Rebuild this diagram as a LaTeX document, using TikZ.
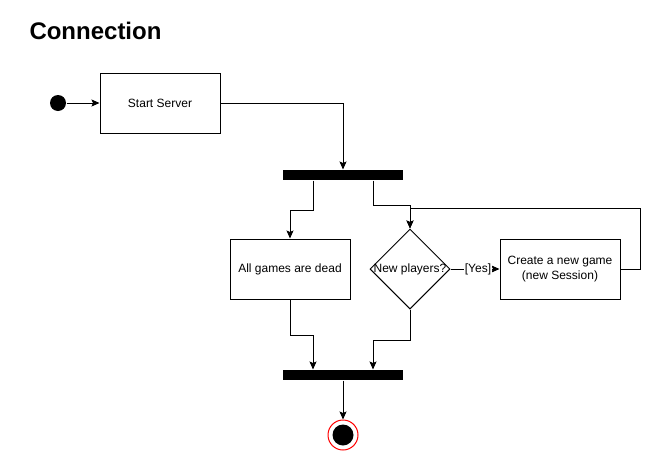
\documentclass[tikz,border=0pt]{standalone}
\usepackage{fontspec}
\setmainfont{Liberation Sans}
\usetikzlibrary{arrows.meta,shapes.geometric}

\begin{document}
\begin{tikzpicture}[x=1pt,y=-1pt,line width=1pt,
    >={Stealth[length=8pt,width=7pt,inset=1.5pt]},
    every node/.style={font=\fontsize{12}{15}\selectfont},
    action/.style={draw,rectangle,minimum width=120,minimum height=60,inner sep=0,align=center},
    bar/.style={fill=black,rectangle,minimum width=120,minimum height=10,inner sep=0},
    choice/.style={draw,diamond,minimum width=80,minimum height=80,inner sep=0}]
  \useasboundingbox (0,0) rectangle (659,461);

  % title
  \node (title) [anchor=base west,inner sep=0,font=\fontsize{24}{28}\selectfont\bfseries] at (29,39) {Connection};

  % start
  \node (init) [circle,fill=black,minimum size=16,inner sep=0] at (58,103) {};
  \node (start) [action] at (160,103) {Start Server};
  \draw[->] (init) -- (start);

  % first fork
  \node (fork1) [bar] at (343,175) {};
  \draw[->] (start.east) -| (fork1.north);

  % branches
  \node (games) [action] at (290,269) {All games are dead};
  \node (dec) [choice,label=center:New players?] at (410,269) {};
  \node (create) [action] at (560,269) {Create a new game\\(new Session)};
  \draw[->] ([xshift=-30]fork1.south) -- ++(0,30) -| (games.north);
  \draw[->] ([xshift=30]fork1.south) -- ++(0,25) -| (dec.north);
  \draw[->] (dec.east) -- node[fill=white,inner sep=1pt,xshift=3] {[Yes]} (create.west);
  \draw[->] (create.east) -- ++(20,0) |- ([yshift=20]dec.north) -- (dec.north);

  % join and end
  \node (fork2) [bar] at (343,375) {};
  \draw[->] (games.south) -- ++(0,36) -| ([xshift=-30]fork2.north);
  \draw[->] (dec.south) -- ++(0,31) -| ([xshift=30]fork2.north);
  \node (final) [circle,draw=red,fill=white,minimum size=30,inner sep=0] at (343,435) {};
  \node (finaldot) [circle,fill=black,minimum size=21,inner sep=0] at (final.center) {};
  \draw[->] (fork2.south) -- (final.north);
\end{tikzpicture}
\end{document}
